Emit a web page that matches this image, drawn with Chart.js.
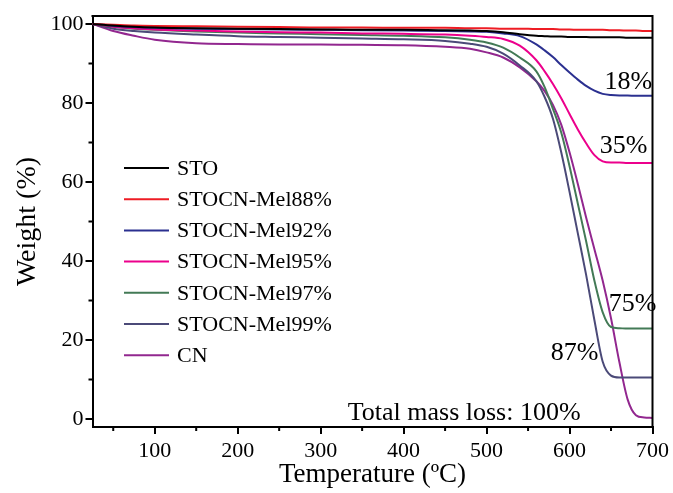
<!DOCTYPE html>
<html lang="en">
<head>
<meta charset="UTF-8" />
<title>TGA curves</title>
<style>
  html, body { margin: 0; padding: 0; background: #fff; }
  #wrap { width: 673px; height: 493px; }
</style>
</head>
<body>
<div id="wrap"><canvas id="myChart" width="673" height="493"></canvas></div>
<script src="https://cdn.jsdelivr.net/npm/chart.js"></script>
<script>
// temperature grid (ºC) shared by every curve
const temps = [25, 50, 75, 100, 150, 200, 250, 300, 350, 400,
               450, 480, 500, 520, 540, 560, 570, 580, 590, 600,
               610, 620, 630, 640, 650, 660, 670, 680, 690, 700];

// weight (%)
const sto = [100, 99.6, 99.3, 99.1, 98.9, 98.8, 98.7, 98.6, 98.5, 98.5,
             98.4, 98.3, 98.2, 97.9, 97.4, 97.0, 96.9, 96.8, 96.8, 96.7,
             96.7, 96.7, 96.6, 96.6, 96.6, 96.6, 96.5, 96.5, 96.5, 96.5];
const mel88 = [100, 99.8, 99.6, 99.5, 99.4, 99.3, 99.2, 99.1, 99.1, 99.0,
               99.0, 98.9, 98.9, 98.8, 98.8, 98.7, 98.7, 98.7, 98.6, 98.6,
               98.5, 98.5, 98.5, 98.5, 98.4, 98.4, 98.3, 98.3, 98.2, 98.2];
const mel92 = [100, 99.5, 99.2, 99.0, 98.8, 98.7, 98.6, 98.5, 98.4, 98.3,
               98.2, 98.1, 98.0, 97.6, 96.9, 94.8, 93.3, 91.6, 89.6, 87.7,
               85.9, 84.3, 83.1, 82.3, 82.0, 81.9, 81.9, 81.8, 81.8, 81.8];
const mel95 = [100, 99.3, 98.9, 98.6, 98.3, 98.1, 97.9, 97.8, 97.6, 97.5,
               97.3, 97.0, 96.7, 96.2, 94.5, 90.8, 88.0, 84.8, 81.2, 77.2,
               73.3, 69.8, 66.8, 65.2, 64.9, 64.9, 64.8, 64.8, 64.8, 64.8];
const mel97 = [100, 99.3, 98.8, 98.5, 98.1, 97.8, 97.6, 97.4, 97.2, 97.0,
               96.6, 96.0, 95.3, 94.0, 91.5, 88.0, 84.0, 78.5, 72.5, 64.0,
               54.5, 45.0, 35.0, 27.0, 23.3, 23.0, 22.9, 22.9, 22.9, 22.9];
const mel99 = [100, 98.8, 98.2, 97.8, 97.3, 96.9, 96.7, 96.5, 96.3, 96.1,
               95.7, 95.0, 94.2, 92.5, 89.5, 85.5, 81.5, 76.0, 67.5, 57.5,
               47.0, 36.5, 25.0, 14.5, 11.0, 10.5, 10.5, 10.5, 10.5, 10.5];
const cn = [100, 98.2, 97.0, 96.0, 95.1, 94.9, 94.8, 94.8, 94.7, 94.6,
            94.2, 93.7, 92.8, 91.5, 89.0, 85.5, 83.0, 79.5, 74.5, 67.5,
            59.5, 51.0, 43.0, 35.0, 25.5, 14.5, 5.0, 1.0, 0.4, 0.3];

const seriesNames = ["STO", "STOCN-Mel88%", "STOCN-Mel92%", "STOCN-Mel95%",
                     "STOCN-Mel97%", "STOCN-Mel99%", "CN"];
const seriesData = [sto, mel88, mel92, mel95, mel97, mel99, cn];
const seriesColors = ["#000000", "#ee1c24", "#2b3090", "#ec008c",
                      "#437a56", "#4b4a78", "#92278f"];

const xTicks = [100, 200, 300, 400, 500, 600, 700];
const xMinor = [50, 150, 250, 350, 450, 550, 650];
const yTicks = [0, 20, 40, 60, 80, 100];
const yMinor = [10, 30, 50, 70, 90];

// loss labels: [text, temperature, weight]
const notes = [
  ["18%", 671, 85.2],
  ["35%", 665, 69.0],
  ["75%", 676, 29.0],
  ["87%", 606, 16.8],
  ["Total mass loss: 100%", 473, 1.6]
];

const serif = "'Liberation Serif', 'Times New Roman', serif";

const extras = {
  id: "extras",
  afterDraw(chart) {
    const { ctx, chartArea: a, scales: { x, y } } = chart;
    ctx.save();
    ctx.strokeStyle = "#000";
    ctx.lineWidth = 2;
    // top and right frame
    ctx.beginPath();
    ctx.moveTo(a.left - 1, a.top);
    ctx.lineTo(a.right, a.top);
    ctx.lineTo(a.right, a.bottom + 1);
    ctx.stroke();
    // minor ticks
    ctx.beginPath();
    xMinor.forEach(v => {
      const px = x.getPixelForValue(v);
      ctx.moveTo(px, a.bottom);
      ctx.lineTo(px, a.bottom + 4);
    });
    yMinor.forEach(v => {
      const py = y.getPixelForValue(v);
      ctx.moveTo(a.left - 4, py);
      ctx.lineTo(a.left, py);
    });
    ctx.stroke();

    // legend
    ctx.font = "22px " + serif;
    ctx.textBaseline = "middle";
    ctx.textAlign = "left";
    chart.data.datasets.forEach((ds, i) => {
      const ly = 168 + i * 31.2;
      ctx.strokeStyle = ds.borderColor;
      ctx.beginPath();
      ctx.moveTo(124, ly);
      ctx.lineTo(169, ly);
      ctx.stroke();
      ctx.fillStyle = "#000";
      ctx.fillText(ds.label, 177, ly + 1);
    });

    // annotations
    ctx.font = "26px " + serif;
    ctx.textAlign = "center";
    notes.forEach(([t, tx, ty]) => {
      ctx.fillText(t, x.getPixelForValue(tx), y.getPixelForValue(ty));
    });
    ctx.restore();
  }
};

const ctx = document.getElementById("myChart").getContext("2d");
new Chart(ctx, {
  type: "line",
  data: {
    labels: temps,
    datasets: seriesNames.map((name, i) => ({
      label: name,
      data: seriesData[i].map((w, j) => ({ x: temps[j], y: w })),
      borderColor: seriesColors[i],
      borderWidth: 2,
      pointRadius: 0,
      fill: false,
      cubicInterpolationMode: "monotone"
    }))
  },
  options: {
    responsive: false,
    animation: false,
    layout: { padding: { top: 16, right: 18, left: 0, bottom: 0 } },
    plugins: {
      legend: { display: false },
      tooltip: { enabled: false }
    },
    scales: {
      x: {
        type: "linear",
        min: 25,
        max: 700,
        afterBuildTicks: s => { s.ticks = xTicks.map(v => ({ value: v })); },
        afterFit: s => { s.height = 66; },
        border: { display: true, color: "#000", width: 2 },
        grid: { drawOnChartArea: false, color: "#000", lineWidth: 2, tickLength: 7 },
        ticks: {
          color: "#000",
          font: { family: serif, size: 22 },
          padding: 4,
          maxRotation: 0
        },
        title: {
          display: true,
          text: "Temperature (ºC)",
          color: "#000",
          font: { family: serif, size: 27 },
          padding: { top: 0, bottom: 2 }
        }
      },
      y: {
        min: -2,
        max: 102,
        afterBuildTicks: s => { s.ticks = yTicks.map(v => ({ value: v })); },
        afterFit: s => { s.width = 92.5; },
        border: { display: true, color: "#000", width: 2 },
        grid: { drawOnChartArea: false, color: "#000", lineWidth: 2, tickLength: 7 },
        ticks: {
          color: "#000",
          font: { family: serif, size: 22 },
          padding: 2
        },
        title: {
          display: true,
          text: "Weight (%)",
          color: "#000",
          font: { family: serif, size: 28 },
          padding: { top: 11, bottom: 0 }
        }
      }
    }
  },
  plugins: [extras]
});
</script>
</body>
</html>
